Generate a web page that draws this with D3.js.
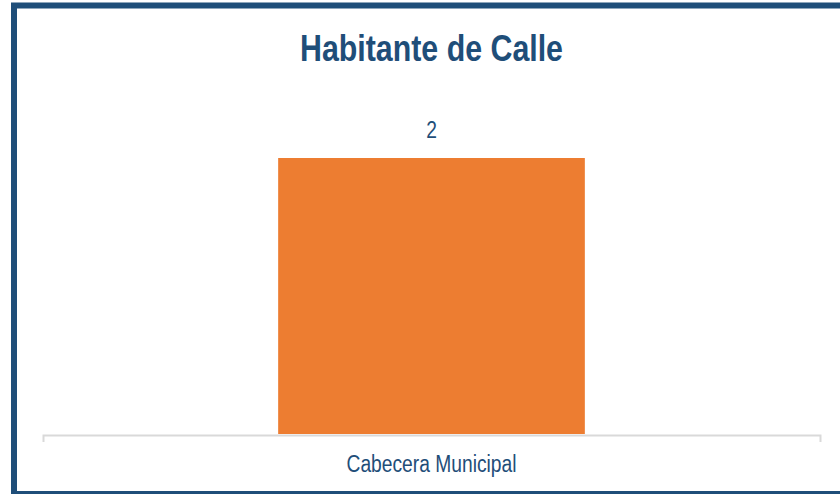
<!DOCTYPE html>
<html>
<head>
<meta charset="utf-8">
<script src="https://cdn.jsdelivr.net/npm/d3@7"></script>
<style>
  body { margin: 0; background: #fff; }
  svg { display: block; }
</style>
</head>
<body>
<div id="chart"></div>
<script>
var categories = ['Cabecera Municipal'];
var values = [2];
var chartTitle = 'Habitante de Calle';

var dim = { width: 840, height: 494 };
var font = "'Liberation Sans', Arial, sans-serif";
var blue = '#1F4E79';

var svg = d3.select('#chart').append('svg')
    .attr('width', dim.width)
    .attr('height', dim.height);

// frame, runs off the right edge like the original screenshot
svg.append('rect')
    .attr('x', 14)
    .attr('y', 5.5)
    .attr('width', 840)
    .attr('height', 488.5)
    .attr('fill', '#fff')
    .attr('stroke', blue)
    .attr('stroke-width', 6);

// narrow face isn't installed, squeeze the glyphs instead
svg.append('text')
    .attr('x', 431.5)
    .attr('y', 61)
    .attr('text-anchor', 'middle')
    .attr('font-family', font)
    .attr('font-weight', 'bold')
    .attr('font-size', '36px')
    .attr('textLength', 263)
    .attr('lengthAdjust', 'spacingAndGlyphs')
    .attr('fill', blue)
    .text(chartTitle);

var x = d3.scaleBand()
    .domain(categories)
    .range([43, 820])
    .padding(0.434);

var y = d3.scaleLinear()
    .domain([0, 2.5])
    .range([434, 89]);

svg.selectAll('rect.bar')
    .data(values).enter()
    .append('rect')
    .attr('class', 'bar')
    .attr('x', (d, i) => x(categories[i]))
    .attr('y', d => y(d))
    .attr('width', x.bandwidth())
    .attr('height', d => y(0) - y(d))
    .attr('fill', '#ED7D31');

svg.selectAll('text.val')
    .data(values).enter()
    .append('text')
    .attr('class', 'val')
    .attr('x', (d, i) => x(categories[i]) + x.bandwidth() / 2)
    .attr('y', d => y(d) - 20)
    .attr('text-anchor', 'middle')
    .attr('font-family', font)
    .attr('font-size', '23px')
    .attr('textLength', 10.7)
    .attr('lengthAdjust', 'spacingAndGlyphs')
    .attr('fill', blue)
    .text(d => d);

var axis = svg.append('g')
    .attr('transform', 'translate(0,435)')
    .call(d3.axisBottom(x).tickSizeInner(0).tickSizeOuter(7).tickPadding(21));

axis.select('.domain')
    .attr('stroke', '#D9D9D9')
    .attr('stroke-width', 2);

axis.selectAll('text')
    .attr('font-family', font)
    .attr('font-size', '23px')
    .attr('textLength', 170)
    .attr('lengthAdjust', 'spacingAndGlyphs')
    .attr('fill', blue);
</script>
</body>
</html>
